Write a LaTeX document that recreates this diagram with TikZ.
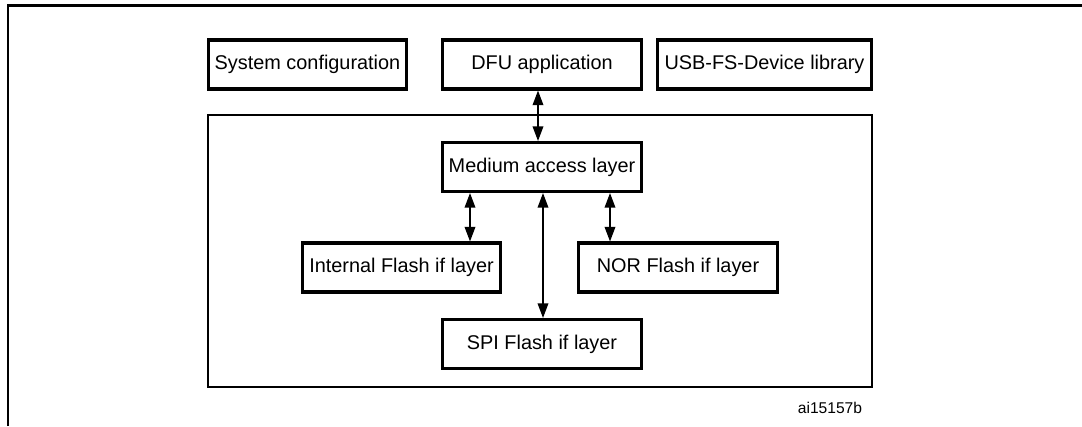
\documentclass[tikz,border=0pt]{standalone}
\usepackage{fontspec}
\setmainfont{Liberation Sans}
\usetikzlibrary{arrows.meta}
\begin{document}
\begin{tikzpicture}[x=0.75pt,y=-0.75pt,
    layer/.style={draw,line width=2.3pt,minimum width=149.25pt,
      minimum height=36.75pt,inner sep=0pt,
      font=\fontsize{14.9}{18}\selectfont},
    bothway/.style={line width=1.1pt,
      {Triangle[length=11pt,width=8pt]}-{Triangle[length=11pt,width=8pt]}}]
  \useasboundingbox (0,0) rectangle (1082,426);
  % figure frame, open on the right
  \draw[line width=1.7pt] (8,426) -- (8,5.5) -- (1082,5.5);

  % top row
  \node[layer,minimum width=148.5pt] (sysconf) at (307.5,64.5) {System configuration};
  \node[layer] (dfuapp) at (542,64.5) {DFU application};
  \node[layer,minimum width=160.5pt] (usblib) at (764.5,64.5) {USB-FS-Device library};

  % media layers
  \draw[line width=0.9pt] (208,115) rectangle (872,387);
  \node[layer] (medium) at (542,167) {Medium access layer};
  \node[layer,minimum width=148.5pt] (intflash) at (401.5,267.5) {Internal Flash if layer};
  \node[layer] (norflash) at (678,267.5) {NOR Flash if layer};
  \node[layer] (spiflash) at (542,344) {SPI Flash if layer};

  % links
  \coordinate (dfux) at ([xshift=-3pt]dfuapp.south);
  \draw[bothway] (dfux) -- (dfux |- medium.north);
  \coordinate (intx) at ([xshift=-54pt]medium.south);
  \coordinate (spix) at ([xshift=0.75pt]medium.south);
  \coordinate (norx) at ([xshift=51pt]medium.south);
  \draw[bothway] (intx) -- (intx |- intflash.north);
  \draw[bothway] (spix) -- (spix |- spiflash.north);
  \draw[bothway] (norx) -- (norx |- norflash.north);

  \node[font=\fontsize{11.7}{14}\selectfont] (figid) at (830,408) {ai15157b};
\end{tikzpicture}
\end{document}
